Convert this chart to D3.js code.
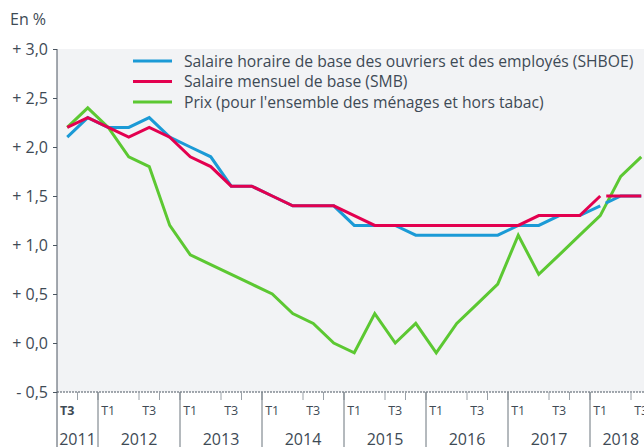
<!DOCTYPE html>
<html>
<head>
<meta charset="utf-8">
<script src="https://cdn.jsdelivr.net/npm/d3@7"></script>
<style>
  body { margin: 0; background: #fff; }
  svg { display: block; font-family: "Open Sans", sans-serif; }
</style>
</head>
<body>
<div id="graph"></div>
<script>
// quarters shown on the x axis (2011 T3 -> 2018 T3)
var quarters = ["2011T3","2011T4",
  "2012T1","2012T2","2012T3","2012T4",
  "2013T1","2013T2","2013T3","2013T4",
  "2014T1","2014T2","2014T3","2014T4",
  "2015T1","2015T2","2015T3","2015T4",
  "2016T1","2016T2","2016T3","2016T4",
  "2017T1","2017T2","2017T3","2017T4",
  "2018T1","2018T2","2018T3"];
var quarterLabels = ["T3","","T1","","T3","","T1","","T3","","T1","","T3","","T1","","T3","","T1","","T3","","T1","","T3","","T1","","T3"];
var years = ["2011","2012","2013","2014","2015","2016","2017","2018"];

// SHBOE, old base then new base (break in 2018)
var shboe = [2.1,2.3,2.2,2.2,2.3,2.1,2.0,1.9,1.6,1.6,1.5,1.4,1.4,1.4,1.2,1.2,1.2,1.1,1.1,1.1,1.1,1.1,1.2,1.2,1.3,1.3,1.4,null,null];
var shboeNew = [null,null,null,null,null,null,null,null,null,null,null,null,null,null,null,null,null,null,null,null,null,null,null,null,null,null,1.4,1.5,1.5];
// SMB
var smb = [2.2,2.3,2.2,2.1,2.2,2.1,1.9,1.8,1.6,1.6,1.5,1.4,1.4,1.4,1.3,1.2,1.2,1.2,1.2,1.2,1.2,1.2,1.2,1.3,1.3,1.3,1.5,null,null];
var smbNew = [null,null,null,null,null,null,null,null,null,null,null,null,null,null,null,null,null,null,null,null,null,null,null,null,null,null,1.5,1.5,1.5];
// Prix
var prix = [2.2,2.4,2.2,1.9,1.8,1.2,0.9,0.8,0.7,0.6,0.5,0.3,0.2,0.0,-0.1,0.3,0.0,0.2,-0.1,0.2,0.4,0.6,1.1,0.7,0.9,1.1,1.3,1.7,1.9];

var yTicks = [3.0,2.5,2.0,1.5,1.0,0.5,0.0,-0.5];
var yTickLabels = ["+ 3,0","+ 2,5","+ 2,0","+ 1,5","+ 1,0","+ 0,5","+ 0,0","- 0,5"];

var legendLabels = ["Salaire horaire de base des ouvriers et des employés (SHBOE)",
  "Salaire mensuel de base (SMB)",
  "Prix (pour l'ensemble des ménages et hors tabac)"];

var blue = "#1b9ad6", red = "#e3004f", green = "#5cc832", textColor = "#3e4a55";

var W = 644, H = 447;
var mLeft = 57, mTop = 49, mBottom = 392, mRight = 651.5;

var svg = d3.select("#graph").append("svg")
    .attr("width", W).attr("height", H);

var x = d3.scaleBand().domain(quarters).range([mLeft, mRight]).paddingInner(0).paddingOuter(0);
var y = d3.scaleLinear().domain([-0.5, 3.0]).range([mBottom, mTop]);
var xc = function(q) { return x(q) + x.bandwidth() / 2; };

// plot background
svg.append("rect")
    .attr("x", mLeft).attr("y", mTop)
    .attr("width", W - mLeft).attr("height", mBottom - mTop)
    .attr("fill", "#f2f3f5");

// title of y axis
svg.append("text").attr("x", 10).attr("y", 25)
    .attr("fill", textColor).style("font-size", "16px").text("En %");

// y axis
var yAxis = svg.append("g")
    .attr("transform", "translate(" + mLeft + ",0)")
    .call(d3.axisLeft(y).tickValues(yTicks).tickSize(4).tickPadding(5)
      .tickFormat(function(d, i) { return yTickLabels[i]; }));
yAxis.select(".domain").attr("stroke", "#4a5560").attr("d", "M0," + mTop + "V" + H);
yAxis.selectAll(".tick line").attr("stroke", "#4a5560");
yAxis.selectAll("text").attr("fill", textColor).style("font-size", "16px").style("font-family", "Open Sans");

// x axis baseline (dotted)
svg.append("line")
    .attr("x1", mLeft).attr("x2", W).attr("y1", mBottom).attr("y2", mBottom)
    .attr("stroke", "#4a5560").attr("stroke-dasharray", "2,1");

// quarter ticks at the boundaries
var xAxis = svg.append("g").attr("transform", "translate(0," + mBottom + ")");
xAxis.selectAll("line.q")
    .data(quarters.filter(function(q) { return q.slice(4) !== "T1"; }))
    .enter().append("line")
    .attr("x1", function(q) { return x(q) + x.bandwidth(); })
    .attr("x2", function(q) { return x(q) + x.bandwidth(); })
    .attr("y1", 0).attr("y2", 8)
    .attr("stroke", "#9aa1a8");
xAxis.selectAll("text.q")
    .data(quarters)
    .enter().append("text")
    .attr("x", xc)
    .attr("y", 23)
    .attr("text-anchor", "middle")
    .attr("fill", textColor)
    .style("font-size", "12.5px")
    .style("font-weight", function(q, i) { return i === 0 ? 700 : 400; })
    .text(function(q, i) { return quarterLabels[i]; });

// year separators and labels
years.forEach(function(yr) {
  var qs = quarters.filter(function(q) { return q.slice(0, 4) === yr; });
  var x0 = x(qs[0]), x1 = x(qs[qs.length - 1]) + x.bandwidth();
  if (yr !== years[0]) {
    xAxis.append("line").attr("x1", x0).attr("x2", x0).attr("y1", 0).attr("y2", H - mBottom)
      .attr("stroke", "#6b747c");
  }
  xAxis.append("text").attr("x", (x0 + x1) / 2).attr("y", 53)
    .attr("text-anchor", "middle").attr("fill", textColor)
    .style("font-size", "16px").text(yr);
});

// lines
var line = d3.line()
    .defined(function(d) { return d != null; })
    .x(function(d, i) { return xc(quarters[i]); })
    .y(function(d) { return y(d); });

function drawLine(values, color, dash) {
  svg.append("path")
    .datum(values)
    .attr("fill", "none")
    .attr("stroke", color)
    .attr("stroke-width", 3)
    .attr("stroke-linejoin", "miter")
    .attr("stroke-dasharray", dash || null)
    .attr("d", line);
}
drawLine(prix, green);
drawLine(shboe, blue);
drawLine(shboeNew, blue, "0,6,1000");
drawLine(smb, red);
drawLine(smbNew, red, "0,6,1000");

// legend
var legendColors = [blue, red, green];
var lg = svg.selectAll("g.legend")
    .data(legendLabels)
    .enter().append("g")
    .attr("transform", function(d, i) { return "translate(133," + (61 + i * 20.5) + ")"; });
lg.append("line").attr("x1", 0).attr("x2", 39).attr("y1", 0).attr("y2", 0)
    .attr("stroke", function(d, i) { return legendColors[i]; }).attr("stroke-width", 3);
lg.append("text").attr("x", 51).attr("y", 0).attr("dy", "0.35em")
    .attr("fill", textColor).style("font-size", "15.7px").text(function(d) { return d; });
</script>
</body>
</html>
